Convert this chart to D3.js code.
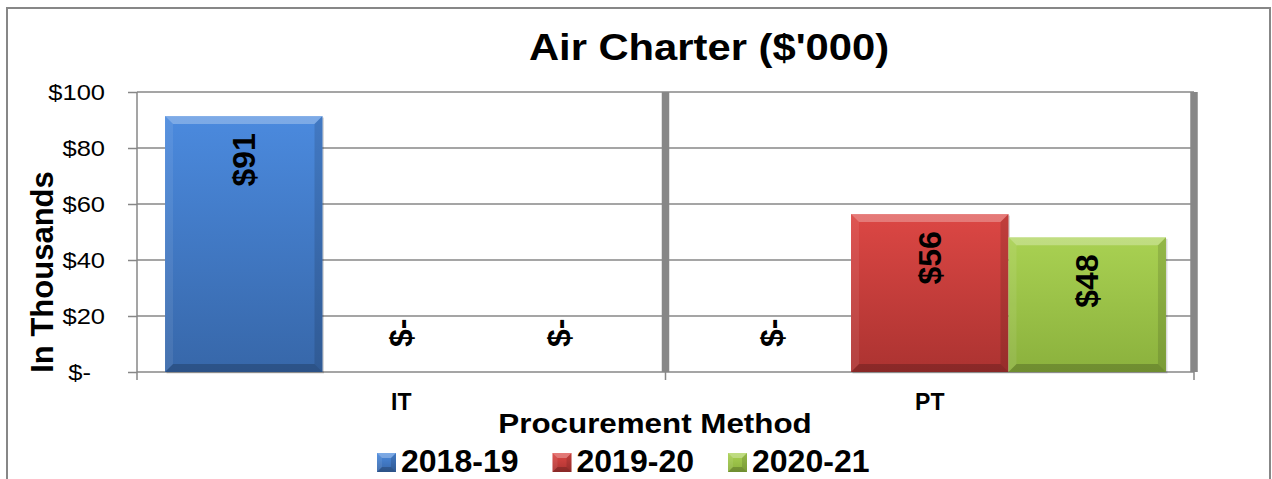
<!DOCTYPE html>
<html>
<head>
<meta charset="utf-8">
<script src="https://cdn.jsdelivr.net/npm/d3@7"></script>
<style>
  body { margin: 0; background: #fff; }
  svg { display: block; font-family: "Liberation Sans", Arial, sans-serif; }
</style>
</head>
<body>
<svg id="chart" width="1272" height="479"></svg>
<script>
  // data
  var categories = ['IT', 'PT']
  var seriesNames = ['2018-19', '2019-20', '2020-21']
  var values2018 = [91.4, 0]
  var values2019 = [0, 56.4]
  var values2020 = [0, 48.1]
  var yTicks = [0, 20, 40, 60, 80, 100]
  var yTickLabels = ['$-', '$20', '$40', '$60', '$80', '$100']

  var seriesValues = [values2018, values2019, values2020]
  // colours: [top, bottom] of each bar gradient
  var COLORS = [['#4b8ade', '#3767a9'], ['#dc4744', '#ac3331'], ['#a9d152', '#8bb13d']]
  var GRID = '#878787'

  var svg = d3.select('#chart')
  var defs = svg.append('defs')

  COLORS.forEach(function (c, i) {
    var g = defs.append('linearGradient')
      .attr('id', 'grad' + i)
      .attr('x1', 0).attr('y1', 0).attr('x2', 0).attr('y2', 1)
    g.append('stop').attr('offset', '0%').attr('stop-color', c[0])
    g.append('stop').attr('offset', '100%').attr('stop-color', c[1])
  })

  // outer border
  svg.append('rect')
    .attr('x', 7).attr('y', 8).attr('width', 1263).attr('height', 490)
    .attr('fill', '#fff').attr('stroke', GRID).attr('stroke-width', 2)

  // scales
  var x = d3.scaleBand().domain(categories).range([137, 1194]).paddingInner(0).paddingOuter(0)
  var x1 = d3.scaleBand().domain(seriesNames).range([0, x.bandwidth()]).paddingInner(0).paddingOuter(0.178)
  var y = d3.scaleLinear().domain([0, 100]).range([372, 92])

  // horizontal gridlines
  svg.append('g').selectAll('line').data(yTicks).enter().append('line')
    .attr('x1', 137).attr('x2', 1194)
    .attr('y1', function (d) { return y(d) }).attr('y2', function (d) { return y(d) })
    .attr('stroke', GRID).attr('stroke-width', 1.5)

  // vertical category gridlines (thick)
  svg.append('g').selectAll('line').data(categories).enter().append('line')
    .attr('x1', function (d) { return x(d) + x.bandwidth() })
    .attr('x2', function (d) { return x(d) + x.bandwidth() })
    .attr('y1', y(100)).attr('y2', y(0))
    .attr('stroke', GRID).attr('stroke-width', 7.5)

  // y axis
  var yAxis = d3.axisLeft(y).tickValues(yTicks).tickSize(9).tickFormat(function (d, i) { return yTickLabels[i] })
  var yg = svg.append('g').attr('transform', 'translate(137,0)').call(yAxis)
  yg.select('.domain').attr('stroke', GRID).attr('stroke-width', 1.5).attr('d', 'M0,' + y(100) + 'V' + (y(0) + 8))
  yg.selectAll('.tick line').attr('stroke', GRID).attr('stroke-width', 1.5)
  yg.selectAll('.tick text')
    .attr('font-size', 22).attr('fill', '#000').attr('font-family', '"Liberation Sans", Arial, sans-serif')
    .attr('x', function (d) { return d === 0 ? -46 : -32 })
    .attr('dy', '0.36em')
    .attr('transform', function (d) {
      var tx = d === 0 ? -46 : -32
      return 'translate(' + tx + ',0) scale(1.16,1) translate(' + (-tx) + ',0)'
    })

  // x axis ticks below the baseline
  svg.append('g').selectAll('line').data(categories).enter().append('line')
    .attr('x1', function (d) { return x(d) + x.bandwidth() })
    .attr('x2', function (d) { return x(d) + x.bandwidth() })
    .attr('y1', y(0)).attr('y2', y(0) + 8)
    .attr('stroke', GRID).attr('stroke-width', 1.5)

  // bars
  var bars = []
  seriesNames.forEach(function (s, si) {
    categories.forEach(function (c, ci) {
      bars.push({ series: s, si: si, cat: c, value: seriesValues[si][ci] })
    })
  })

  function bevel(g, bx, by, bw, bh, b) {
    b = Math.min(b, bh / 2, bw / 2)
    var pts = [
      [[bx, by], [bx + bw, by], [bx + bw - b, by + b], [bx + b, by + b], 'rgba(255,255,255,0.28)'],
      [[bx, by], [bx + b, by + b], [bx + b, by + bh - b], [bx, by + bh], 'rgba(255,255,255,0.08)'],
      [[bx + bw, by], [bx + bw - b, by + b], [bx + bw - b, by + bh - b], [bx + bw, by + bh], 'rgba(0,0,0,0.12)'],
      [[bx, by + bh], [bx + b, by + bh - b], [bx + bw - b, by + bh - b], [bx + bw, by + bh], 'rgba(0,0,0,0.2)']
    ]
    pts.forEach(function (p) {
      g.append('polygon')
        .attr('points', p.slice(0, 4).map(function (q) { return q.join(',') }).join(' '))
        .attr('fill', p[4])
    })
  }

  var barG = svg.append('g')
  bars.forEach(function (d) {
    if (d.value <= 0) return
    var bx = x(d.cat) + x1(d.series), bw = x1.bandwidth()
    var by = y(d.value), bh = y(0) - y(d.value)
    var g = barG.append('g')
    g.append('rect').attr('x', bx + 1.5).attr('y', by + 1.5).attr('width', bw).attr('height', bh)
      .attr('fill', 'rgba(0,0,0,0.15)')
    g.append('rect').attr('x', bx).attr('y', by).attr('width', bw).attr('height', bh)
      .attr('fill', 'url(#grad' + d.si + ')')
    bevel(g, bx, by, bw, bh, 8)
  })

  // data labels (rotated)
  svg.append('g').selectAll('text').data(bars).enter().append('text')
    .attr('font-size', 32).attr('font-weight', 'bold').attr('fill', '#000')
    .attr('text-anchor', function (d) { return d.value > 0 ? 'end' : 'start' })
    .attr('dy', '0.35em')
    .attr('transform', function (d) {
      var cx = x(d.cat) + x1(d.series) + x1.bandwidth() / 2
      var ty = d.value > 0 ? y(d.value) + 17 : y(0) - 25
      return 'translate(' + cx + ',' + ty + ') rotate(-90)'
    })
    .text(function (d) { return d.value > 0 ? '$' + Math.round(d.value) : '$-' })

  // category labels
  svg.append('g').selectAll('text').data(categories).enter().append('text')
    .attr('x', function (d) { return x(d) + x.bandwidth() / 2 })
    .attr('y', 410)
    .attr('text-anchor', 'middle').attr('font-size', 23).attr('font-weight', 'bold')
    .text(function (d) { return d })

  // titles
  svg.append('text')
    .attr('transform', 'translate(709,60) scale(1.16,1)')
    .attr('text-anchor', 'middle').attr('font-size', 36).attr('font-weight', 'bold')
    .text("Air Charter ($'000)")

  svg.append('text')
    .attr('transform', 'translate(655,433) scale(1.1,1)')
    .attr('text-anchor', 'middle').attr('font-size', 28.5).attr('font-weight', 'bold')
    .text('Procurement Method')

  svg.append('text')
    .attr('transform', 'translate(53,272) rotate(-90)')
    .attr('text-anchor', 'middle').attr('font-size', 31).attr('font-weight', 'bold')
    .text('In Thousands')

  // legend
  var lx = d3.scaleBand().domain(seriesNames).range([377, 377 + 3 * 175.5])
  var leg = svg.append('g').selectAll('g').data(seriesNames).enter().append('g')
    .attr('transform', function (d) { return 'translate(' + lx(d) + ',0)' })
  leg.each(function (d, i) {
    var g = d3.select(this)
    g.append('rect').attr('x', 0).attr('y', 453).attr('width', 19).attr('height', 19)
      .attr('fill', 'url(#grad' + i + ')')
    bevel(g, 0, 453, 19, 19, 5)
  })
  leg.append('text')
    .attr('transform', 'translate(24,472) scale(1.05,1)')
    .attr('font-size', 30.5).attr('font-weight', 'bold')
    .text(function (d) { return d })
</script>
</body>
</html>
